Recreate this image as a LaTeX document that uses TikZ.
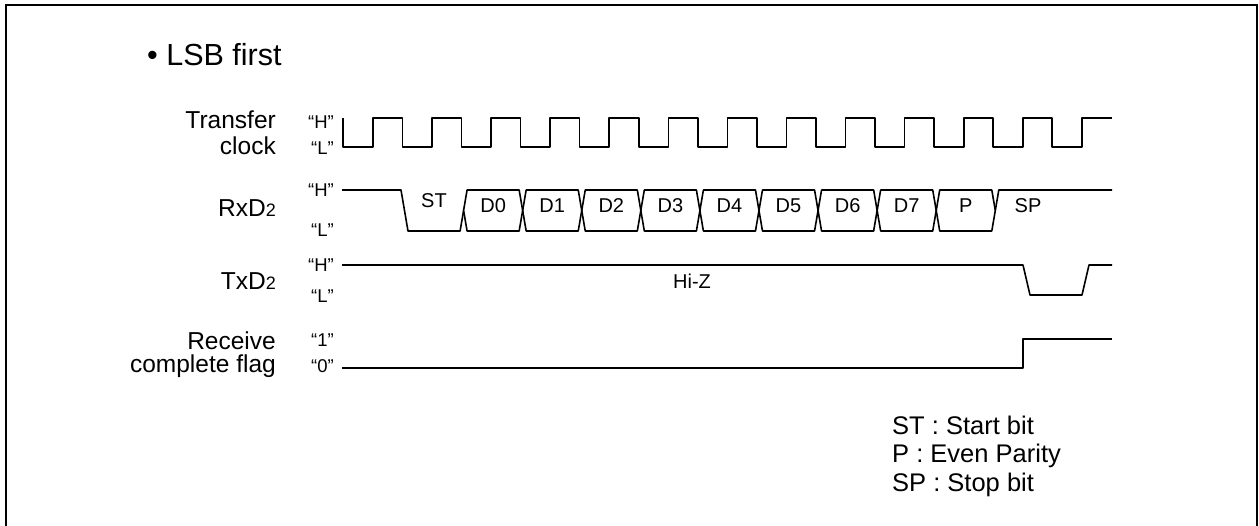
\documentclass[tikz,border=0pt]{standalone}
\usepackage{fontspec}
\setmainfont{Liberation Sans}
\usetikzlibrary{positioning}

\begin{document}
\begin{tikzpicture}[x=1pt, y=-1pt,
    sig/.style={line width=1.6pt, line join=round},
    sigtitle/.style={anchor=base east, inner sep=0pt, font=\fontsize{24.5}{28}\selectfont},
    lvl/.style={anchor=base east, inner sep=0pt, font=\fontsize{18.5}{21}\selectfont},
    bitlbl/.style={anchor=base, inner sep=0pt, font=\fontsize{20}{23}\selectfont},
    legend/.style={anchor=base west, inner sep=0pt, font=\fontsize{25.5}{29}\selectfont}]
    \useasboundingbox (0,0) rectangle (1259,526);
    % Frame
    \draw[line width=1.8pt] (6,530) -- (6,5) -- (1257,5) -- (1257,530);
    % Heading
    \node[anchor=base west, inner sep=0pt, font=\fontsize{30.5}{34}\selectfont] (title) at (147,66) {\textbullet\ LSB first};
    % Signal names
    \node[sigtitle] (clkname) at (276,129) {Transfer};
    \node[sigtitle] (clkname2) at (276,155) {clock};
    \node[sigtitle] (rxname) at (276,217) {RxD{\fontsize{18}{20}\selectfont 2}};
    \node[sigtitle] (txname) at (276,290) {TxD{\fontsize{18}{20}\selectfont 2}};
    \node[sigtitle] (flagname) at (276,350) {Receive};
    \node[sigtitle] (flagname2) at (276,373) {complete flag};
    % Levels
    \node[lvl] (clkH) at (334,129) {``H''};
    \node[lvl] (clkL) at (334,155) {``L''};
    \node[lvl] (rxH) at (334,197) {``H''};
    \node[lvl] (rxL) at (334,237) {``L''};
    \node[lvl] (txH) at (334,272) {``H''};
    \node[lvl] (txL) at (334,303) {``L''};
    \node[lvl] (flag1) at (334,347) {``1''};
    \node[lvl] (flag0) at (334,373) {``0''};
    % Transfer clock
    \draw[sig] (343,118) -- (343,147)
        \foreach \k in {0,...,11} { -- ({372.9+59.08*\k},147) -- ++(0,-29) -- ++(29.5,0) -- ++(0,29) }
        -- (1082,147) -- (1082,118) -- (1112,118);
    % RxD2: start bit, data bits, parity, stop bit
    \draw[sig] (342,190) -- (401,190) -- (408,231) -- (460.1,231) -- (463.6,210.5);
    \node[bitlbl] (st) at (434,208) {ST};
    \foreach \lab [count=\k] in {D0,D1,D2,D3,D4,D5,D6,D7,P} {
        \pgfmathsetmacro\xa{404.5+59.08*\k}
        \pgfmathsetmacro\xb{\xa+59.08}
        \draw[sig] (\xa,210.5) -- (\xa+3.5,190) -- (\xb-3.5,190) -- (\xb,210.5)
            -- (\xb-3.5,231) -- (\xa+3.5,231) -- cycle;
        \node[bitlbl] (bit\k) at ({(\xa+\xb)/2},213) {\lab};
    }
    \draw[sig] (995.3,210.5) -- (998.8,190) -- (1112,190);
    \node[bitlbl] (sp) at (1028,213) {SP};
    % TxD2
    \draw[sig] (342,265) -- (1023,265) -- (1030,295) -- (1082,295) -- (1089,265) -- (1112,265);
    \node[bitlbl] (hiz) at (692,289) {Hi-Z};
    % Receive complete flag
    \draw[sig] (342,368) -- (1023,368) -- (1023,339) -- (1112,339);
    % Legend
    \node[legend] (keyst) at (892,435) {ST : Start bit};
    \node[legend] (keyp) at (892,463) {P : Even Parity};
    \node[legend] (keysp) at (892,492) {SP : Stop bit};
\end{tikzpicture}
\end{document}
